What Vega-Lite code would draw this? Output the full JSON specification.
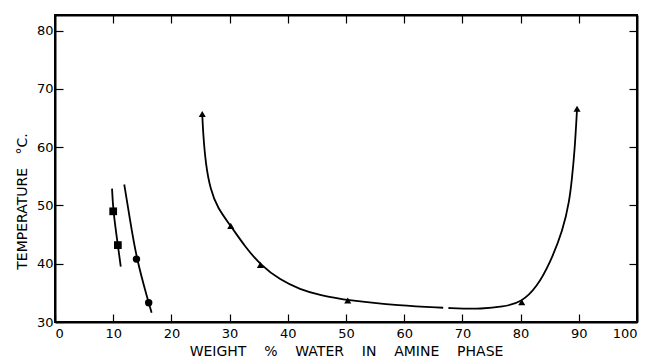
{
  "$schema": "https://vega.github.io/schema/vega-lite/v6.json",
  "width": 582,
  "height": 307,
  "autosize": {"type": "none"},
  "padding": {"left": 55, "top": 15, "right": 14, "bottom": 41},
  "background": "white",
  "config": {
    "font": "DejaVu Sans",
    "view": {"stroke": "black", "strokeWidth": 2},
    "axis": {"grid": false, "domainColor": "black", "domainWidth": 2, "tickColor": "black", "tickWidth": 1.2, "labelColor": "black", "titleColor": "black", "labelFont": "DejaVu Sans", "titleFont": "DejaVu Sans", "labelFontWeight": "normal", "titleFontWeight": "normal"}
  },
  "datasets": {
    "points": [
      {"x": 10.0, "y": 49.0, "s": "sq"},
      {"x": 10.8, "y": 43.2, "s": "sq"},
      {"x": 14.0, "y": 40.8, "s": "ci"},
      {"x": 16.1, "y": 33.3, "s": "ci"},
      {"x": 25.3, "y": 65.7, "s": "tr"},
      {"x": 30.2, "y": 46.5, "s": "tr"},
      {"x": 35.3, "y": 39.8, "s": "tr"},
      {"x": 50.3, "y": 33.7, "s": "tr"},
      {"x": 80.2, "y": 33.4, "s": "tr"},
      {"x": 89.7, "y": 66.6, "s": "tr"}
    ],
    "curves": [
      {"seg": "sq", "x": 9.8, "y": 52.9},
      {"seg": "sq", "x": 10.0, "y": 49.0},
      {"seg": "sq", "x": 10.8, "y": 43.2},
      {"seg": "sq", "x": 11.3, "y": 39.5},
      {"seg": "ci", "x": 11.9, "y": 53.6},
      {"seg": "ci", "x": 12.8, "y": 48.1},
      {"seg": "ci", "x": 14.0, "y": 40.8},
      {"seg": "ci", "x": 16.1, "y": 33.3},
      {"seg": "ci", "x": 16.6, "y": 31.6},
      {"seg": "a", "x": 25.3, "y": 65.7},
      {"seg": "a", "x": 25.45, "y": 62.4},
      {"seg": "a", "x": 25.9, "y": 57.0},
      {"seg": "a", "x": 26.7, "y": 52.8},
      {"seg": "a", "x": 27.9, "y": 49.6},
      {"seg": "a", "x": 30.2, "y": 46.5},
      {"seg": "a", "x": 32.6, "y": 43.0},
      {"seg": "a", "x": 35.3, "y": 39.8},
      {"seg": "a", "x": 38.7, "y": 37.2},
      {"seg": "a", "x": 42.1, "y": 35.6},
      {"seg": "a", "x": 45.5, "y": 34.6},
      {"seg": "a", "x": 50.3, "y": 33.7},
      {"seg": "a", "x": 59.3, "y": 32.8},
      {"seg": "a", "x": 66.7, "y": 32.45},
      {"seg": "b", "x": 67.6, "y": 32.4},
      {"seg": "b", "x": 70.2, "y": 32.3},
      {"seg": "b", "x": 73.0, "y": 32.25},
      {"seg": "b", "x": 77.0, "y": 32.6},
      {"seg": "b", "x": 80.2, "y": 33.4},
      {"seg": "b", "x": 82.8, "y": 36.0},
      {"seg": "b", "x": 85.05, "y": 40.1},
      {"seg": "b", "x": 87.3, "y": 45.8},
      {"seg": "b", "x": 88.4, "y": 50.9},
      {"seg": "b", "x": 88.8, "y": 54.4},
      {"seg": "b", "x": 89.3, "y": 59.5},
      {"seg": "b", "x": 89.7, "y": 66.6}
    ]
  },
  "resolve": {"axis": {"x": "independent", "y": "independent"}},
  "layer": [
    {
      "data": {"name": "curves"},
      "mark": {"type": "line", "color": "black", "strokeWidth": 1.8, "interpolate": "basis"},
      "encoding": {
        "x": {"field": "x", "type": "quantitative", "scale": {"domain": [0, 100], "nice": false},
          "axis": {"orient": "bottom", "values": [0,10,20,30,40,50,60,70,80,90,100], "tickSize": -8, "labelPadding": 13, "labelFontSize": 13, "title": "WEIGHT\u00a0\u00a0\u00a0\u00a0%\u00a0\u00a0\u00a0\u00a0WATER\u00a0\u00a0\u00a0\u00a0IN\u00a0\u00a0\u00a0\u00a0AMINE\u00a0\u00a0\u00a0\u00a0PHASE", "titleFontSize": 14, "titlePadding": 4}},
        "y": {"field": "y", "type": "quantitative", "scale": {"domain": [30, 82.7], "nice": false, "zero": false},
          "axis": {"orient": "left", "values": [30,40,50,60,70,80], "tickSize": -8, "labelPadding": 10, "labelFontSize": 13, "title": "TEMPERATURE\u00a0\u00a0\u00a0°C.", "titleFontSize": 14, "titleX": -33, "titleY": 186, "titleAngle": 270, "titleBaseline": "middle", "titleAlign": "center"}},
        "detail": {"field": "seg"}
      }
    },
    {
      "data": {"name": "points"},
      "mark": {"type": "point", "filled": true, "color": "black", "opacity": 1},
      "encoding": {
        "x": {"field": "x", "type": "quantitative",
          "axis": {"orient": "top", "values": [10,20,30,40,50,60,70,80,90], "tickSize": -8, "labels": false, "title": null}},
        "y": {"field": "y", "type": "quantitative",
          "axis": {"orient": "right", "values": [30,40,50,60,70,80], "tickSize": -8, "labels": false, "title": null}},
        "shape": {"field": "s", "type": "nominal", "scale": {"domain": ["sq", "ci", "tr"], "range": ["square", "circle", "triangle-up"]}, "legend": null},
        "size": {"field": "s", "type": "nominal", "scale": {"domain": ["sq", "ci", "tr"], "range": [60, 50, 90]}, "legend": null}
      }
    }
  ]
}
